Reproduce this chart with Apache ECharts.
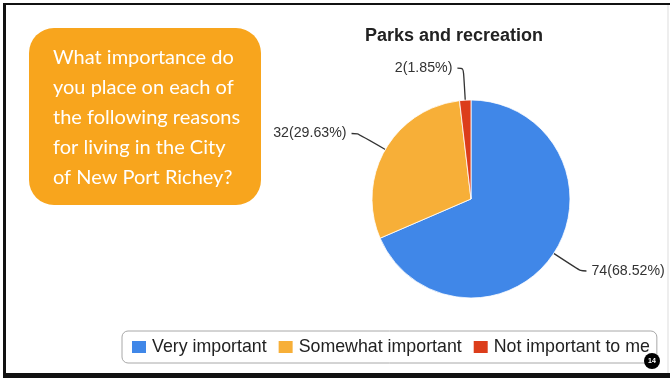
<!DOCTYPE html>
<html>
<head>
<meta charset="utf-8">
<script src="https://cdn.jsdelivr.net/npm/echarts@6/dist/echarts.min.js"></script>
<style>
  html, body { margin: 0; padding: 0; background: #fff; }
  #chart { width: 670px; height: 378px; }
</style>
</head>
<body>
<div id="chart"></div>
<script>
// Survey answers for "Parks and recreation"
const categories = ['Very important', 'Somewhat important', 'Not important to me'];
const counts = [74, 32, 2];
const sliceColors = ['#4087E8', '#F7AF38', '#DC3D1B'];

const chartTitle = 'Parks and recreation';
const questionLines = [
  'What importance do',
  'you place on each of',
  'the following reasons',
  'for living in the City',
  'of New Port Richey?'
];
const slideNumber = '14';

const chart = echarts.init(document.getElementById('chart'), null, { renderer: 'canvas' });

const questionText = questionLines.join('\n');

chart.setOption({
  backgroundColor: '#ffffff',
  animation: false,
  color: sliceColors,
  title: {
    text: chartTitle,
    left: 449,
    textAlign: 'center',
    top: 22,
    textStyle: { fontFamily: 'Liberation Sans, Arial, sans-serif', fontSize: 18, fontWeight: 'bold', color: '#222' }
  },
  legend: {
    data: categories,
    left: 122,
    top: 331,
    orient: 'horizontal',
    icon: 'rect',
    itemWidth: 16,
    itemHeight: 14,
    itemGap: 10,
    padding: [7, 7, 7, 8],
    borderColor: '#a8a8a8',
    borderWidth: 1,
    borderRadius: 6,
    selectedMode: false,
    textStyle: { fontFamily: 'Liberation Sans, Arial, sans-serif', fontSize: 17.8, color: '#222' }
  },
  graphic: [
    // slide frame
    { type: 'rect', shape: { x: 3, y: 3, width: 670, height: 2 }, style: { fill: '#111' }, silent: true },
    { type: 'rect', shape: { x: 3, y: 3, width: 3, height: 375 }, style: { fill: '#111' }, silent: true },
    { type: 'rect', shape: { x: 3, y: 373, width: 670, height: 5 }, style: { fill: '#111' }, silent: true },
    { type: 'rect', shape: { x: 667.5, y: 5, width: 1, height: 368 }, style: { fill: '#dddddd' }, silent: true },
    // question call-out
    {
      type: 'rect',
      shape: { x: 29, y: 28, width: 232, height: 177, r: 25 },
      style: { fill: '#F8A51D' },
      silent: true
    },
    {
      type: 'text',
      left: 53,
      top: 43,
      style: {
        text: questionText,
        fill: '#ffffff',
        font: '20px Lato, "Open Sans", sans-serif',
        lineHeight: 30
      },
      silent: true
    },
    // slide number badge
    { type: 'circle', shape: { cx: 652, cy: 361, r: 8 }, style: { fill: '#000' }, silent: true, z: 10 },
    {
      type: 'text', x: 652, y: 361, z: 11,
      style: { text: slideNumber, fill: '#fff', font: 'bold 7px "Liberation Sans", Arial', align: 'center', verticalAlign: 'middle' },
      silent: true
    }
  ],
  series: [{
    type: 'pie',
    center: [471, 199],
    radius: [0, 99],
    startAngle: 90,
    clockwise: true,
    avoidLabelOverlap: false,
    percentPrecision: 2,
    itemStyle: { borderColor: '#ffffff', borderWidth: 0.8 },
    label: {
      show: true,
      position: 'outside',
      formatter: '{c}({d}%)',
      fontFamily: 'Liberation Sans, Arial, sans-serif',
      fontSize: 14.2,
      color: '#333',
      padding: [6, 0, 0, 0]
    },
    labelLine: {
      show: true,
      length: 32,
      length2: 6,
      smooth: 0.3,
      lineStyle: { color: '#333', width: 1.3 }
    },
    emphasis: { disabled: true },
    data: categories.map((name, i) => ({ name: name, value: counts[i] }))
  }]
});
</script>
</body>
</html>
